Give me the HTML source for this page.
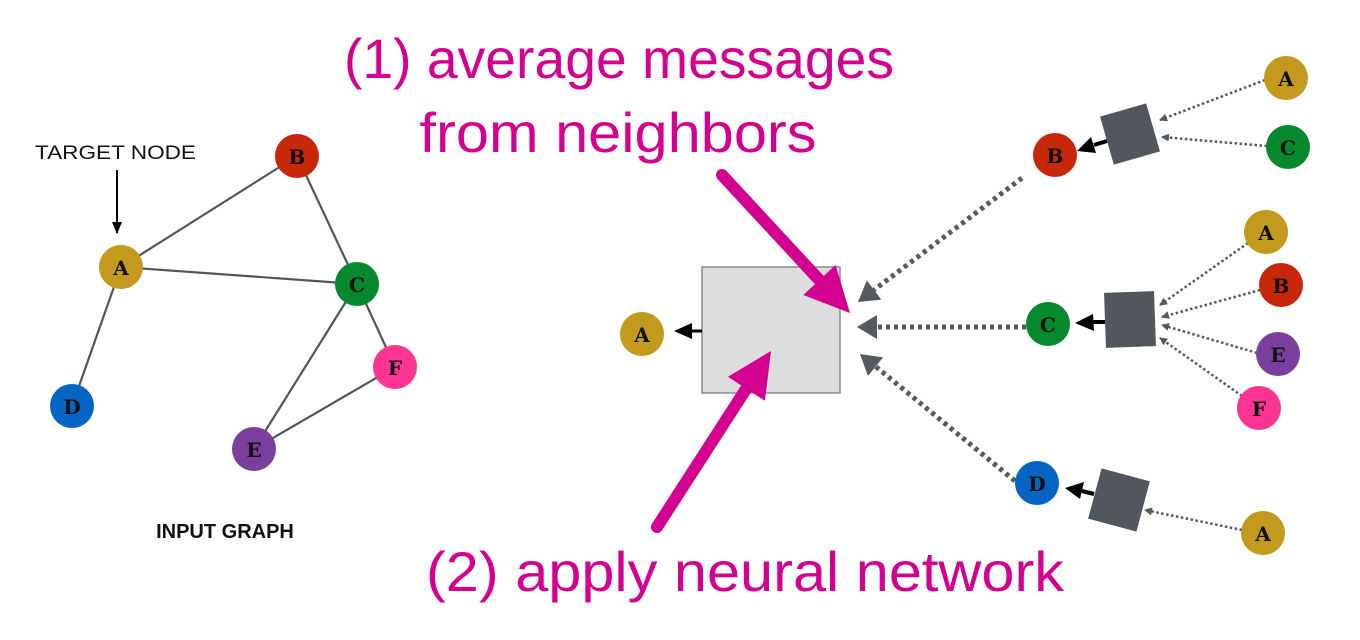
<!DOCTYPE html>
<html><head><meta charset="utf-8"><style>html,body{margin:0;padding:0;background:#fff}svg{display:block}</style></head>
<body>
<svg width="1360" height="640" viewBox="0 0 1360 640" xmlns="http://www.w3.org/2000/svg">
<defs>
<marker id="ga" markerWidth="8" markerHeight="8" refX="7" refY="4" orient="auto" markerUnits="userSpaceOnUse" viewBox="0 0 8 8"><path d="M0,0 L8,4 L0,8 z" fill="#555a61"/></marker>
<marker id="bs" markerWidth="12" markerHeight="12" refX="11" refY="6" orient="auto" markerUnits="userSpaceOnUse" viewBox="0 0 12 12"><path d="M0,1 L12,6 L0,11 z" fill="#000"/></marker>
</defs>
<style>
.n{font-family:"DejaVu Serif","Liberation Serif",serif;font-weight:bold;font-size:20px;text-anchor:middle;dominant-baseline:central;fill:#111}
.e{stroke:#555;stroke-width:2.2}
.d{stroke:#555a61;stroke-width:2.5;stroke-dasharray:2.5 2.5;fill:none}
.D{stroke:#555a61;stroke-width:5;stroke-dasharray:4 4;fill:none}
.m{font-family:"Liberation Sans",sans-serif;font-size:56px;fill:#d4008f;text-anchor:middle}
</style>
<!-- left graph -->
<line class="e" x1="121" y1="267" x2="297" y2="156"/>
<line class="e" x1="121" y1="267" x2="357" y2="284"/>
<line class="e" x1="121" y1="267" x2="72" y2="406"/>
<line class="e" x1="297" y1="156" x2="357" y2="284"/>
<line class="e" x1="357" y1="284" x2="395" y2="367"/>
<line class="e" x1="357" y1="284" x2="254" y2="449"/>
<line class="e" x1="395" y1="367" x2="254" y2="449"/>
<circle cx="297" cy="156" r="22" fill="#c8280a"/><text class="n" x="297" y="157">B</text>
<circle cx="121" cy="267" r="22" fill="#c49a1e"/><text class="n" x="121" y="268">A</text>
<circle cx="357" cy="284" r="22" fill="#06892e"/><text class="n" x="357" y="285">C</text>
<circle cx="395" cy="367" r="22" fill="#fc3593"/><text class="n" x="395" y="368">F</text>
<circle cx="254" cy="449" r="22" fill="#7a3f9c"/><text class="n" x="254" y="450">E</text>
<circle cx="72" cy="406" r="22" fill="#0664c2"/><text class="n" x="72" y="407">D</text>
<text x="35" y="159" font-family="Liberation Sans,sans-serif" font-size="19" fill="#111" textLength="161" lengthAdjust="spacingAndGlyphs">TARGET NODE</text>
<line x1="117" y1="170" x2="117" y2="233" stroke="#000" stroke-width="2" marker-end="url(#bs)"/>
<text x="225" y="538" font-family="Liberation Sans,sans-serif" font-weight="bold" font-size="20" fill="#111" text-anchor="middle">INPUT GRAPH</text>
<!-- middle -->
<rect x="702" y="267" width="138" height="126" fill="#dcdddf" stroke="#888b90" stroke-width="1.5"/>
<line x1="702" y1="331" x2="690" y2="331" stroke="#000" stroke-width="3"/>
<polygon points="674,331 692,323 692,339" fill="#000"/>
<circle cx="642" cy="334" r="22" fill="#c49a1e"/><text class="n" x="642" y="335">A</text>
<line class="D" x1="1022" y1="178" x2="874" y2="290"/>
<polygon points="858,302 866.8,280.4 881.2,299.6" fill="#555a61"/>
<line class="D" x1="1026" y1="327" x2="877" y2="327"/>
<polygon points="857,327 877,315 877,339" fill="#555a61"/>
<line class="D" x1="1015" y1="481" x2="875" y2="366"/>
<polygon points="860,354 883.1,357.4 867.9,376" fill="#555a61"/>
<line x1="722" y1="175" x2="823" y2="284" stroke="#d4008f" stroke-width="12" stroke-linecap="round"/>
<polygon points="850,313 803.3,295 835.5,265" fill="#d4008f"/>
<line x1="657" y1="527" x2="748" y2="386" stroke="#d4008f" stroke-width="12" stroke-linecap="round"/>
<polygon points="771,351 764.9,400.8 728,376.8" fill="#d4008f"/>
<!-- B group -->
<rect x="1106" y="109" width="48" height="50" fill="#52575e" transform="rotate(-16 1130 134)"/>
<line x1="1107" y1="141" x2="1094" y2="145" stroke="#000" stroke-width="4"/>
<polygon points="1077,151 1091,137 1096,153" fill="#000"/>
<line class="d" x1="1265" y1="80" x2="1160" y2="120" marker-end="url(#ga)"/>
<line class="d" x1="1267" y1="146" x2="1162" y2="137" marker-end="url(#ga)"/>
<circle cx="1055" cy="155" r="22" fill="#c8280a"/><text class="n" x="1055" y="156">B</text>
<circle cx="1286" cy="78" r="22" fill="#c49a1e"/><text class="n" x="1286" y="79">A</text>
<circle cx="1288" cy="147" r="22" fill="#06892e"/><text class="n" x="1288" y="148">C</text>
<!-- C group -->
<rect x="1105" y="292" width="50" height="55" fill="#52575e" transform="rotate(-2 1130 320)"/>
<line x1="1105" y1="322" x2="1092" y2="322" stroke="#000" stroke-width="4"/>
<polygon points="1075,323 1093,314 1094,331" fill="#000"/>
<line class="d" x1="1248" y1="243" x2="1160" y2="305" marker-end="url(#ga)"/>
<line class="d" x1="1260" y1="290" x2="1162" y2="317" marker-end="url(#ga)"/>
<line class="d" x1="1257" y1="353" x2="1162" y2="325" marker-end="url(#ga)"/>
<line class="d" x1="1242" y1="396" x2="1160" y2="338" marker-end="url(#ga)"/>
<circle cx="1048" cy="324" r="22" fill="#06892e"/><text class="n" x="1048" y="325">C</text>
<circle cx="1266" cy="232" r="22" fill="#c49a1e"/><text class="n" x="1266" y="233">A</text>
<circle cx="1281" cy="285" r="22" fill="#c8280a"/><text class="n" x="1281" y="286">B</text>
<circle cx="1278" cy="354" r="22" fill="#7a3f9c"/><text class="n" x="1278" y="355">E</text>
<circle cx="1259" cy="408" r="22" fill="#fc3593"/><text class="n" x="1259" y="409">F</text>
<!-- D group -->
<rect x="1094" y="474" width="50" height="52" fill="#52575e" transform="rotate(15 1119 500)"/>
<line x1="1094" y1="494" x2="1082" y2="491" stroke="#000" stroke-width="4"/>
<polygon points="1065,488 1084,482 1080,499" fill="#000"/>
<line class="d" x1="1242" y1="530" x2="1145" y2="510" marker-end="url(#ga)"/>
<circle cx="1037" cy="483" r="22" fill="#0664c2"/><text class="n" x="1037" y="484">D</text>
<circle cx="1263" cy="533" r="22" fill="#c49a1e"/><text class="n" x="1263" y="534">A</text>
<!-- captions -->
<text class="m" x="619" y="78" textLength="550" lengthAdjust="spacingAndGlyphs">(1) average messages</text>
<text class="m" x="618" y="152" textLength="397" lengthAdjust="spacingAndGlyphs">from neighbors</text>
<text class="m" x="745" y="591" textLength="638" lengthAdjust="spacingAndGlyphs">(2) apply neural network</text>
</svg>
</body></html>
